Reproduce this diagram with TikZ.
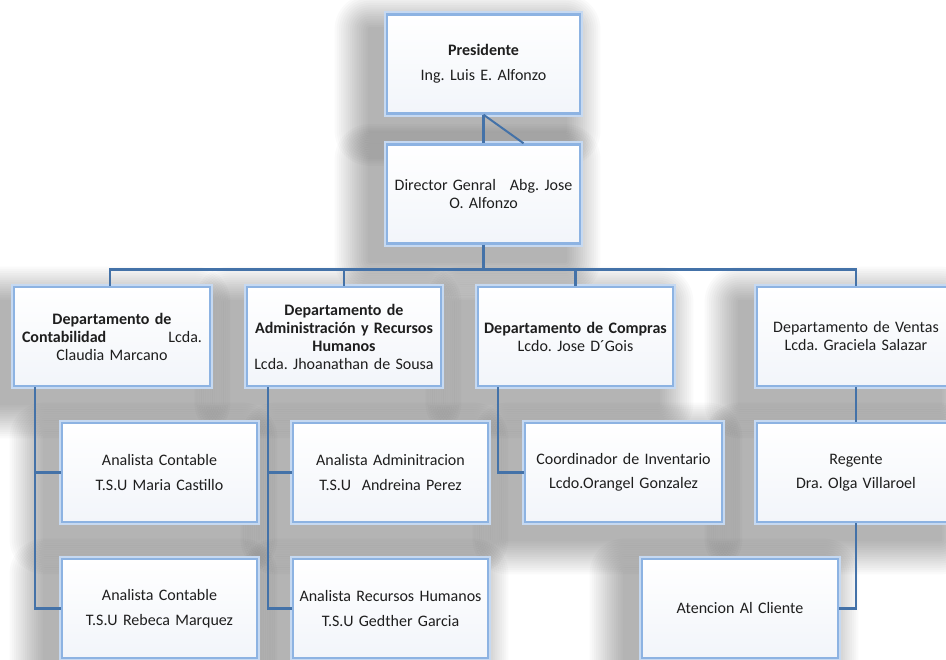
\documentclass[tikz,border=0pt]{standalone}
\usepackage{fontspec}
\setmainfont{Carlito}[WordSpace=0.8]
\usetikzlibrary{backgrounds}
\definecolor{glow}{HTML}{C6D9F1}
\definecolor{rim}{HTML}{8DB3E2}
\definecolor{linkc}{HTML}{4472A8}
\definecolor{ink}{HTML}{1E1E1E}
\definecolor{boxbot}{HTML}{F2F5FA}
\begin{document}
\frenchspacing
\begin{tikzpicture}[x=1pt,y=-1pt,
  box/.style={draw=rim, line width=2.4pt,
    preaction={draw=glow, line width=6.5pt, fill=white},
    top color=white, bottom color=boxbot,
    inner sep=0pt, align=center, text=ink,
    font=\fontsize{16}{18}\selectfont\frenchspacing, minimum height=99pt},
  wide/.style={font=\fontsize{16}{24.5}\selectfont\frenchspacing},
  conn/.style={draw=linkc, line width=2.6pt}]
\useasboundingbox (0,0) rectangle (946,660);

% nodes
\node[box, wide, text width=193pt] (pres) at (483.5,64) {\textbf{Presidente}\\Ing. Luis E. Alfonzo};
\node[box, text width=193pt] (dir) at (483.5,194) {Director Genral\hspace{14pt}Abg. Jose\\O. Alfonzo};

\node[box, text width=196pt] (cont) at (112,336.5) {\textbf{Departamento de}\\\makebox[180pt]{\textbf{Contabilidad}\hfill Lcda.}\\Claudia Marcano};
\node[box, text width=194pt] (adm) at (344,336.5) {\textbf{Departamento de}\\\textbf{Administración y Recursos}\\\textbf{Humanos}\\Lcda. Jhoanathan de Sousa};
\node[box, text width=195pt] (comp) at (575.5,336.5) {\textbf{Departamento de Compras}\\Lcdo. Jose D´Gois};
\node[box, text width=198pt] (vent) at (856,336.5) {Departamento de Ventas\\Lcda. Graciela Salazar};

\node[box, wide, text width=195pt] (ac1) at (159.5,472.5) {Analista Contable\\T.S.U Maria Castillo};
\node[box, wide, text width=195pt] (ac2) at (159.5,608.5) {Analista Contable\\T.S.U Rebeca Marquez};
\node[box, wide, text width=195pt] (aa) at (390.5,472.5) {Analista Adminitracion\\T.S.U\ \ Andreina Perez};
\node[box, wide, text width=195pt] (ar) at (390.5,608.5) {Analista Recursos Humanos\\T.S.U Gedther Garcia};
\node[box, wide, text width=197pt] (coord) at (623.5,472.5) {Coordinador de Inventario\\Lcdo.Orangel Gonzalez};
\node[box, wide, text width=198pt] (reg) at (856,472.5) {Regente\\Dra. Olga Villaroel};
\node[box, wide, text width=196pt] (aten) at (740,608.5) {Atencion Al Cliente};

% connectors
\draw[conn] (pres.south) -- (dir.north);
\draw[conn, line width=2pt] (pres.south) -- ([xshift=40pt]dir.north);
\coordinate (bus) at ([yshift=-25pt]dir.south);
\draw[conn] (dir.south) -- (bus);
\draw[conn] ([xshift=-2pt]cont.north) |- (bus) -| (vent.north);
\draw[conn] (adm.north) -- (adm.north |- bus);
\draw[conn] (comp.north) -- (comp.north |- bus);

\coordinate (cl) at ([xshift=-77pt]cont.south);
\draw[conn] (cl) |- (ac2.west);
\draw[conn] (cl |- ac1.west) -- (ac1.west);

\coordinate (al) at ([xshift=-76pt]adm.south);
\draw[conn] (al) |- (ar.west);
\draw[conn] (al |- aa.west) -- (aa.west);

\coordinate (pl) at ([xshift=-77.5pt]comp.south);
\draw[conn] (pl) |- (coord.west);

\draw[conn] (vent.south) -- (reg.north);
\draw[conn] (reg.south) |- (aten.east);

% background and soft shadows
\begin{pgfonlayer}{background}
\fill[white] (0,0) rectangle (946,660);
\foreach \n in {pres,dir,cont,adm,comp,vent,ac1,ac2,aa,ar,coord,reg,aten}{
  \foreach \k in {1,...,16}{
    \pgfmathsetmacro\rr{2.2*\k}
    \fill[black, opacity=0.021, rounded corners=\rr pt]
      ([shift={(-16-\rr,16-\rr)}]\n.north west) rectangle ([shift={(-16+\rr,16+\rr)}]\n.south east);
  }
}
\end{pgfonlayer}
\end{tikzpicture}
\end{document}
